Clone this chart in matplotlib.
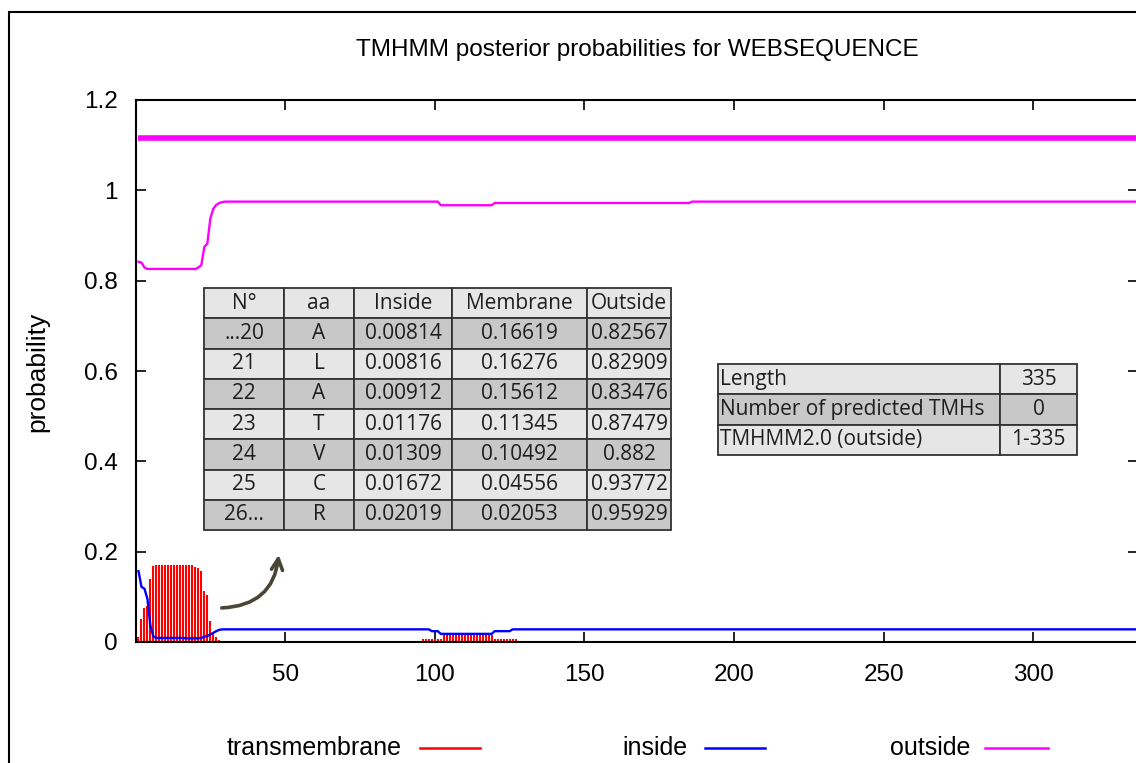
import numpy as np
import matplotlib
matplotlib.use('Agg')
import matplotlib.pyplot as plt
from matplotlib.lines import Line2D
from matplotlib.patches import Rectangle

# ---- data ----
seq_len = 335

# residues 1..30, one value each
inside_head = [0.157, 0.122, 0.118, 0.095, 0.035, 0.012, 0.009, 0.009, 0.009, 0.009,
               0.009, 0.009, 0.009, 0.009, 0.009, 0.009, 0.008, 0.008, 0.008,
               0.00814, 0.00816, 0.00912, 0.01176, 0.01309, 0.01672, 0.02019,
               0.024, 0.027, 0.028, 0.028]
membrane_head = [0.010, 0.050, 0.075, 0.080, 0.140, 0.168,
                 0.170, 0.170, 0.170, 0.170, 0.170, 0.170, 0.170, 0.170, 0.170, 0.170, 0.170, 0.170, 0.170,
                 0.16619, 0.16276, 0.15612, 0.11345, 0.10492, 0.04556, 0.02053,
                 0.010, 0.005, 0.003, 0.002]
outside_head = [0.842, 0.840, 0.829,
                0.826, 0.826, 0.826, 0.826, 0.826, 0.826, 0.826, 0.826,
                0.826, 0.826, 0.826, 0.826, 0.826, 0.826, 0.826, 0.826,
                0.82567, 0.82909, 0.83476, 0.87479, 0.882, 0.93772, 0.95929,
                0.968, 0.972, 0.974, 0.975]

# residues 31..335 as (first, last, value) runs
inside_runs = [(31, 98, 0.028), (99, 101, 0.024), (102, 119, 0.018),
               (120, 125, 0.024), (126, 335, 0.028)]
membrane_runs = [(31, 58, 0.0), (59, 83, 0.003), (84, 95, 0.0), (96, 102, 0.006),
                 (103, 119, 0.015), (120, 127, 0.007), (128, 150, 0.0),
                 (151, 190, 0.003), (191, 335, 0.0)]
outside_runs = [(31, 101, 0.975), (102, 119, 0.967), (120, 185, 0.972), (186, 335, 0.975)]

# predicted topology bar
topo_start, topo_end, topo_level = 1, 335, 1.115

# tables
tab_cols = ['N°', 'aa', 'Inside', 'Membrane', 'Outside']
tab_rows = [['...20', 'A', '0.00814', '0.16619', '0.82567'],
            ['21', 'L', '0.00816', '0.16276', '0.82909'],
            ['22', 'A', '0.00912', '0.15612', '0.83476'],
            ['23', 'T', '0.01176', '0.11345', '0.87479'],
            ['24', 'V', '0.01309', '0.10492', '0.882'],
            ['25', 'C', '0.01672', '0.04556', '0.93772'],
            ['26...', 'R', '0.02019', '0.02053', '0.95929']]
summary_rows = [['Length', '335'],
                ['Number of predicted TMHs', '0'],
                ['TMHMM2.0 (outside)', '1-335']]

yticks = [0, 0.2, 0.4, 0.6, 0.8, 1.0, 1.2]
ylabels = ['0', '0.2', '0.4', '0.6', '0.8', '1', '1.2']
xticks = [50, 100, 150, 200, 250, 300]


def expand(head, runs):
    vals = list(head)
    for a, b, v in runs:
        vals += [v] * (b - a + 1)
    return np.array(vals)


pos = np.arange(1, seq_len + 1)
inside = expand(inside_head, inside_runs)
membrane = expand(membrane_head, membrane_runs)
outside = expand(outside_head, outside_runs)

W, H = 1136, 763
fig = plt.figure(figsize=(W / 100, H / 100), dpi=100)
narrow = ['Liberation Sans Narrow', 'Liberation Sans', 'DejaVu Sans']

# axes placed in pixels: x 135.5..1138, y 100..642
ax = fig.add_axes([135.5 / W, (H - 642) / H, 1002.7 / W, 542 / H])

nz = membrane > 0
ax.vlines(pos[nz], 0, membrane[nz], color='#ff0000', lw=1.5)
ax.plot(pos, inside, color='#0000ff', lw=1.7)
ax.plot(pos, outside, color='#ff00ff', lw=1.7)
ax.plot([topo_start, topo_end], [topo_level, topo_level], color='#ff00ff', lw=4,
        solid_capstyle='butt')

ax.set_xlim(0, seq_len)
ax.set_ylim(0, 1.2)
ax.set_xticks(xticks)
ax.set_xticklabels([str(t) for t in xticks])
ax.set_yticks(yticks)
ax.set_yticklabels(ylabels)
ax.tick_params(direction='in', length=7, width=1.2, top=True, right=True,
               labelsize=17.5)
ax.tick_params(axis='x', pad=16)
ax.tick_params(axis='y', pad=13)
for lab in ax.get_xticklabels() + ax.get_yticklabels():
    lab.set_family(narrow)
for sp in ax.spines.values():
    sp.set_linewidth(1.5)

ax.set_ylabel('probability', fontsize=19, family=narrow, va='center')
ax.yaxis.set_label_coords((37 - 135.5) / 1002.7, (642 - 372) / 542)
ax.text(0.5, (642 - 50) / 542, 'TMHMM posterior probabilities for WEBSEQUENCE',
        transform=ax.transAxes, ha='center', va='center', fontsize=17.5,
        family=['Liberation Sans', 'DejaVu Sans'])

# ---- tables ----
light, dark = '#e6e6e6', '#c8c8c8'
cell_font = ['Open Sans', 'DejaVu Sans']

col_px = [80, 70, 98, 135, 84]
t1 = ax.table(cellText=[tab_cols] + tab_rows, cellLoc='center',
              colWidths=[c / sum(col_px) for c in col_px],
              bbox=[(204 - 135.5) / 1002.7, (642 - 530) / 542, 467 / 1002.7, 242 / 542])
t1.auto_set_font_size(False)
t1.set_fontsize(15)
for (r, c), cell in t1.get_celld().items():
    cell.set_facecolor(dark if r % 2 == 1 else light)
    cell.set_edgecolor('#333333')
    cell.set_linewidth(1.3)
    cell.get_text().set_family(cell_font)
    cell.get_text().set_color('#1e1e1e')

t2 = ax.table(cellText=summary_rows, cellLoc='center',
              colWidths=[282 / 359, 77 / 359],
              bbox=[(718 - 135.5) / 1002.7, (642 - 455) / 542, 359 / 1002.7, 91 / 542])
t2.auto_set_font_size(False)
t2.set_fontsize(15)
for (r, c), cell in t2.get_celld().items():
    cell.set_facecolor(dark if r == 1 else light)
    cell.set_edgecolor('#333333')
    cell.set_linewidth(1.3)
    cell.get_text().set_family(cell_font)
    cell.get_text().set_color('#1e1e1e')
    if c == 0:
        cell.PAD = 0.006
        cell.get_text().set_ha('left')

# curved arrow pointing at the table
ax.annotate('', xy=(279 / W, 1 - 552 / H), xytext=(219 / W, 1 - 608 / H),
            xycoords='figure fraction', textcoords='figure fraction',
            arrowprops=dict(arrowstyle='->,head_length=0.8,head_width=0.4',
                            connectionstyle='arc3,rad=0.45', lw=2.6, color='#4a4636'))

# ---- key below the plot ----
key = [('transmembrane', '#ff0000', 402, 420, 480),
       ('inside', '#0000ff', 687, 705, 765),
       ('outside', '#ff00ff', 970, 985, 1048)]
for label, col, tx, l0, l1 in key:
    fig.text(tx / W, 1 - 748 / H, label, ha='right', va='center', fontsize=18, family=narrow)
    fig.add_artist(Line2D([l0 / W, l1 / W], [1 - 748 / H, 1 - 748 / H], color=col, lw=1.8))

# outer frame of the screenshot
fig.add_artist(Rectangle((9 / W, -0.1), 1.2, 1 - 12 / H + 0.1, transform=fig.transFigure,
                         fill=False, edgecolor='black', lw=1.5, clip_on=False))

fig.savefig('out.png', dpi=100)
